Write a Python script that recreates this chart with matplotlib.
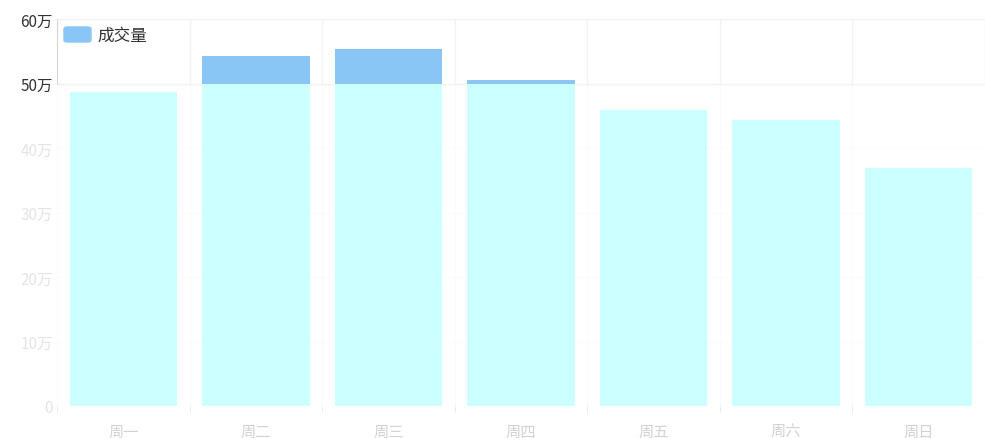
import matplotlib.pyplot as plt
import numpy as np
from matplotlib.patches import FancyBboxPatch

plt.rcParams["font.family"] = ["Noto Sans CJK SC", "DejaVu Sans"]

days = ["周一", "周二", "周三", "周四", "周五", "周六", "周日"]
volume = [487000, 543000, 553000, 505000, 459000, 443000, 369000]
threshold = 500000
y_ticks = [0, 100000, 200000, 300000, 400000, 500000, 600000]

W, H = 985, 439
fig = plt.figure(figsize=(W / 100, H / 100), dpi=100)
ax = fig.add_axes([57 / W, 32 / H, (W - 57) / W, (407 - 20) / H])

x = np.arange(len(days))
vol = np.array(volume)
low = np.minimum(vol, threshold)
high = np.clip(vol - threshold, 0, None)
ax.bar(x, low, width=0.81, color="#ccffff", zorder=2)
ax.bar(x, high, bottom=low, width=0.81, color="#8ac6f5", zorder=2)

ax.set_xlim(-0.5, len(days) - 0.5)
ax.set_ylim(0, 600000)

# faint grid, mostly washed out below the threshold
for b in np.arange(-0.5, len(days), 1.0):
    ax.plot([b, b], [threshold, 600000], color="#f5f3f0", lw=1, zorder=1)
    ax.plot([b, b], [0, threshold], color="#fcfbfa", lw=1, zorder=1)
for t in y_ticks[1:]:
    c = "#f3f1ee" if t >= threshold else "#fcfcfb"
    ax.axhline(t, color=c, lw=1, zorder=1)

for s in ["top", "right", "bottom"]:
    ax.spines[s].set_visible(False)
ax.spines["left"].set_color("#d6d6d6")
ax.spines["left"].set_bounds(threshold, 600000)

ax.set_yticks(y_ticks)
ax.set_yticklabels([f"{t // 10000}万" if t else "0" for t in y_ticks], fontsize=11)
for lab, t in zip(ax.get_yticklabels(), y_ticks):
    lab.set_color("#333333" if t >= threshold else "#e4e4e4")
ax.tick_params(axis="y", length=0, pad=3)

ax.set_xticks(x)
ax.set_xticklabels(days, fontsize=11, color="#d2d2d2")
ax.tick_params(axis="x", length=0, pad=12)
ax.set_xticks(np.arange(-0.5, len(days) - 1, 1.0), minor=True)
ax.tick_params(axis="x", which="minor", length=4, color="#e8e8e8")

# legend
fig.patches.append(FancyBboxPatch((64 / W, (H - 43) / H), 27 / W, 15 / H,
                                  boxstyle="round,pad=0,rounding_size=0.004",
                                  transform=fig.transFigure, color="#8ac6f5"))
fig.text(97 / W, (H - 36) / H, "成交量", fontsize=12, color="#333333", va="center")

fig.savefig("out.png", dpi=100)
